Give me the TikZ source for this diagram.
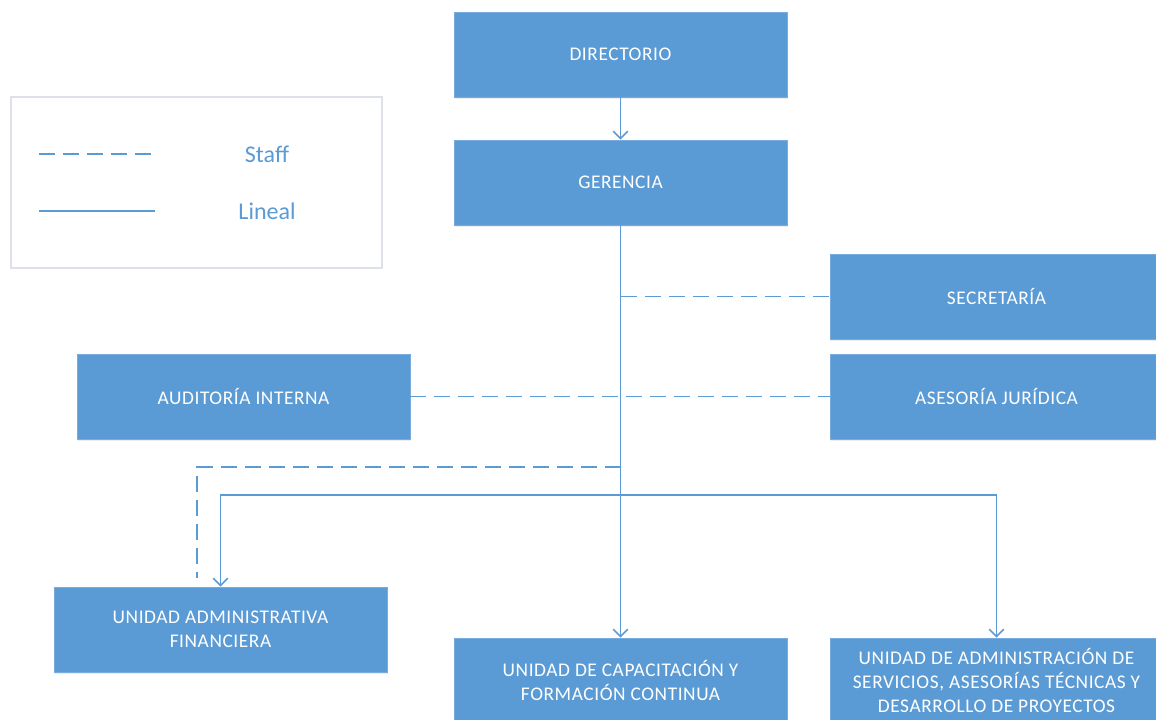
\documentclass[tikz,border=0pt]{standalone}
\usepackage{fontspec}
\setmainfont{Carlito}
\newfontfamily\cajafont[LetterSpace=3]{Carlito}
\usetikzlibrary{arrows.meta,shadows}

\definecolor{azul}{RGB}{91,155,213}
\definecolor{borde}{RGB}{120,172,222}
\definecolor{marco}{RGB}{222,226,232}

\tikzset{
  cargo/.style={rectangle,fill=azul,draw=borde,line width=0.6pt,
    minimum width=249.75pt,minimum height=63.75pt,inner sep=2pt,
    text=white,align=center,font=\cajafont\fontsize{14.5}{18}\selectfont,
    drop shadow={shadow xshift=0.6pt,shadow yshift=-1.6pt,opacity=0.15}},
  lineal/.style={draw=azul,line width=1.4pt},
  staff/.style={draw=azul,line width=1.4pt,dash pattern=on 12pt off 6pt},
  flecha/.style={-{Straight Barb[length=5.5pt,width=11pt,line width=1.2pt]}},
  leyenda/.style={rectangle,fill=white,draw=marco,line width=0.8pt,
    minimum width=278.25pt,minimum height=128.25pt,
    drop shadow={shadow xshift=0.8pt,shadow yshift=-0.8pt,opacity=0.05}},
  rotulo/.style={text=azul,font=\fontsize{18}{22}\selectfont}
}

\begin{document}
\begin{tikzpicture}[x=0.75pt,y=0.75pt,yscale=-1,xscale=1]
\useasboundingbox (0,0) rectangle (1156,719);
\clip (0,0) rectangle (1156,719);

%Legend box
\node[leyenda] (ley) at (196.5,182.5) {};
\coordinate (stfA) at (39,154);
\coordinate (stfB) at (152,154);
\coordinate (linA) at (39,211);
\coordinate (linB) at (155,211);
\draw[staff] (stfA) -- (stfB);
\draw[lineal,line width=0.8pt] (linA) -- (linB);
% Text Node
\node[rotulo] (txtstaff) at (267,154) {Staff};
% Text Node
\node[rotulo] (txtlineal) at (267,211) {Lineal};

%Boxes
\node[cargo] (dir) at (620.5,54.5) {DIRECTORIO};
\node[cargo] (ger) at (620.5,182.5) {GERENCIA};
\node[cargo] (sec) at (996.5,296.5) {SECRETARÍA};
\node[cargo] (ase) at (996.5,396.5) {ASESORÍA JURÍDICA};
\node[cargo] (aud) at (243.5,396.5) {AUDITORÍA INTERNA};
\node[cargo] (uaf) at (220.5,629.5) {UNIDAD ADMINISTRATIVA\\FINANCIERA};
\node[cargo] (ucf) at (620.5,680.5) {UNIDAD DE CAPACITACIÓN Y\\FORMACIÓN CONTINUA};
\node[cargo] (uas) at (996.5,680.5) {UNIDAD DE ADMINISTRACIÓN DE\\SERVICIOS, ASESORÍAS TÉCNICAS Y\\DESARROLLO DE PROYECTOS};

%Connectors
\coordinate (bus) at (620.5,495);
\coordinate (dstf) at (620.5,467);
\coordinate (dstfend) at (197,578);

\draw[staff] (ger.south |- sec.west) -- (sec.west);
\draw[staff] (aud.east) -- (ase.west);
\draw[staff] (dstf) -| (dstfend);
\draw[lineal,flecha] (dir.south) -- (ger.north);
\draw[lineal,flecha] (ger.south) -- (ucf.north);
\draw[lineal,flecha] (bus) -| (uaf.north);
\draw[lineal,flecha] (bus) -| (uas.north);
\end{tikzpicture}
\end{document}
